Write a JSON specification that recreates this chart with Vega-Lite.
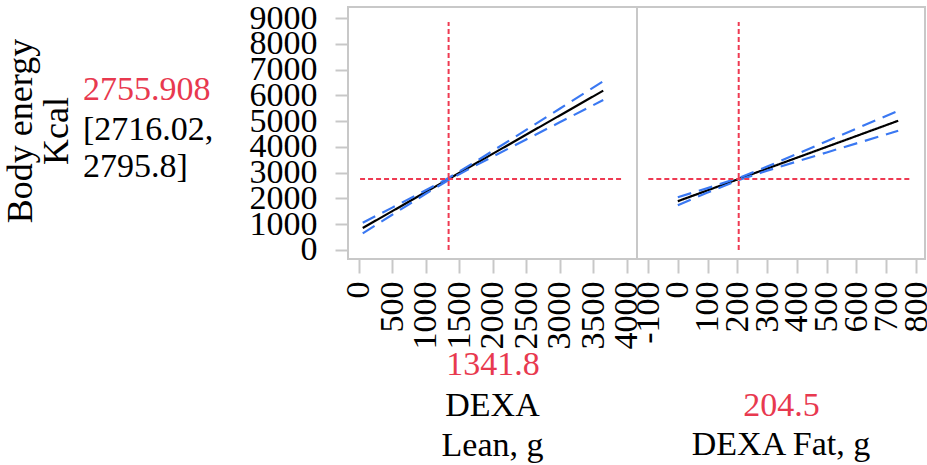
{
  "$schema": "https://vega.github.io/schema/vega-lite/v6.json",
  "background": "white",
  "padding": 0,
  "config": {
    "font": "Liberation Serif",
    "view": {"stroke": "#c8c8c8", "strokeWidth": 2},
    "axis": {"labelFont": "Liberation Serif", "titleFont": "Liberation Serif", "labelColor": "black", "grid": false, "domain": false, "tickCount": 30, "labelExpr": "'' + datum.value"},
    "title": {"font": "Liberation Serif", "fontWeight": "normal", "color": "black"}
  },
  "datasets": {
    "curves": [
      {"panel": "lean", "series": "fit", "x": 60, "y": 852.4},
      {"panel": "lean", "series": "fit", "x": 500, "y": 1505.8},
      {"panel": "lean", "series": "fit", "x": 1000, "y": 2248.3},
      {"panel": "lean", "series": "fit", "x": 1341.8, "y": 2755.9},
      {"panel": "lean", "series": "fit", "x": 1700, "y": 3287.8},
      {"panel": "lean", "series": "fit", "x": 2000, "y": 3733.3},
      {"panel": "lean", "series": "fit", "x": 2500, "y": 4475.9},
      {"panel": "lean", "series": "fit", "x": 3000, "y": 5218.3},
      {"panel": "lean", "series": "fit", "x": 3650, "y": 6183.6},
      {"panel": "lean", "series": "lo", "x": 60, "y": 647},
      {"panel": "lean", "series": "lo", "x": 500, "y": 1368},
      {"panel": "lean", "series": "lo", "x": 1000, "y": 2181},
      {"panel": "lean", "series": "lo", "x": 1341.8, "y": 2716.0},
      {"panel": "lean", "series": "lo", "x": 1700, "y": 3219},
      {"panel": "lean", "series": "lo", "x": 2000, "y": 3622},
      {"panel": "lean", "series": "lo", "x": 2500, "y": 4290},
      {"panel": "lean", "series": "lo", "x": 3000, "y": 4955},
      {"panel": "lean", "series": "lo", "x": 3650, "y": 5819},
      {"panel": "lean", "series": "hi", "x": 60, "y": 1058},
      {"panel": "lean", "series": "hi", "x": 500, "y": 1644},
      {"panel": "lean", "series": "hi", "x": 1000, "y": 2315},
      {"panel": "lean", "series": "hi", "x": 1341.8, "y": 2795.8},
      {"panel": "lean", "series": "hi", "x": 1700, "y": 3357},
      {"panel": "lean", "series": "hi", "x": 2000, "y": 3844},
      {"panel": "lean", "series": "hi", "x": 2500, "y": 4662},
      {"panel": "lean", "series": "hi", "x": 3000, "y": 5482},
      {"panel": "lean", "series": "hi", "x": 3650, "y": 6548},
      {"panel": "fat", "series": "fit", "x": 0, "y": 1892.9},
      {"panel": "fat", "series": "fit", "x": 100, "y": 2314.9},
      {"panel": "fat", "series": "fit", "x": 204.5, "y": 2755.9},
      {"panel": "fat", "series": "fit", "x": 300, "y": 3158.9},
      {"panel": "fat", "series": "fit", "x": 400, "y": 3580.9},
      {"panel": "fat", "series": "fit", "x": 500, "y": 4002.9},
      {"panel": "fat", "series": "fit", "x": 600, "y": 4424.9},
      {"panel": "fat", "series": "fit", "x": 740, "y": 5015.7},
      {"panel": "fat", "series": "lo", "x": 0, "y": 1740},
      {"panel": "fat", "series": "lo", "x": 100, "y": 2230},
      {"panel": "fat", "series": "lo", "x": 204.5, "y": 2716.0},
      {"panel": "fat", "series": "lo", "x": 300, "y": 3079},
      {"panel": "fat", "series": "lo", "x": 400, "y": 3435},
      {"panel": "fat", "series": "lo", "x": 500, "y": 3786},
      {"panel": "fat", "series": "lo", "x": 600, "y": 4137},
      {"panel": "fat", "series": "lo", "x": 740, "y": 4628},
      {"panel": "fat", "series": "hi", "x": 0, "y": 2046},
      {"panel": "fat", "series": "hi", "x": 100, "y": 2400},
      {"panel": "fat", "series": "hi", "x": 204.5, "y": 2795.8},
      {"panel": "fat", "series": "hi", "x": 300, "y": 3238},
      {"panel": "fat", "series": "hi", "x": 400, "y": 3727},
      {"panel": "fat", "series": "hi", "x": 500, "y": 4219},
      {"panel": "fat", "series": "hi", "x": 600, "y": 4712},
      {"panel": "fat", "series": "hi", "x": 740, "y": 5403}
    ],
    "rules": [
      {"panel": "lean", "x": 1341.8, "x2": 1341.8, "y": 0, "y2": 8850},
      {"panel": "lean", "x": 20, "x2": 3930, "y": 2755.9, "y2": 2755.9},
      {"panel": "fat", "x": 204.5, "x2": 204.5, "y": 0, "y2": 8850},
      {"panel": "fat", "x": -99, "x2": 779, "y": 2755.9, "y2": 2755.9}
    ],
    "annot": [
      {"id": "resp", "text": "Body energy\nKcal"},
      {"id": "pred", "text": "2755.908"},
      {"id": "ci1", "text": "[2716.02,"},
      {"id": "ci2", "text": "2795.8]"}
    ]
  },
  "bounds": "flush",
  "spacing": 0,
  "hconcat": [
    {
      "width": 348,
      "height": 252,
      "view": {"stroke": null},
      "data": {"name": "annot"},
      "layer": [
        {
          "transform": [{"filter": "datum.id === 'resp'"}],
          "mark": {"type": "text", "angle": 270, "align": "center", "baseline": "middle", "fontSize": 36, "lineHeight": 36, "lineBreak": "\n", "dx": 2, "dy": -153, "color": "black"},
          "encoding": {"text": {"field": "text"}}
        },
        {
          "transform": [{"filter": "datum.id === 'pred'"}],
          "mark": {"type": "text", "align": "left", "baseline": "alphabetic", "fontSize": 34, "dx": -91, "dy": -33, "color": "#e8394f"},
          "encoding": {"text": {"field": "text"}}
        },
        {
          "transform": [{"filter": "datum.id === 'ci1'"}],
          "mark": {"type": "text", "align": "left", "baseline": "alphabetic", "fontSize": 34, "dx": -91, "dy": 7, "color": "black"},
          "encoding": {"text": {"field": "text"}}
        },
        {
          "transform": [{"filter": "datum.id === 'ci2'"}],
          "mark": {"type": "text", "align": "left", "baseline": "alphabetic", "fontSize": 34, "dx": -91, "dy": 44, "color": "black"},
          "encoding": {"text": {"field": "text"}}
        }
      ]
    },
    {
      "width": 289,
      "height": 252,
      "title": {"text": ["DEXA", "Lean, g"], "orient": "bottom", "anchor": "middle", "fontSize": 34, "lineHeight": 40, "offset": 8},
      "layer": [
        {
          "data": {"name": "curves"},
          "transform": [{"filter": "datum.panel === 'lean'"}],
          "mark": {"type": "line", "strokeWidth": 2.2},
          "encoding": {
            "x": {"field": "x", "type": "quantitative", "scale": {"domain": [-160, 4154], "nice": false, "zero": false},
              "axis": {"values": [0, 500, 1000, 1500, 2000, 2500, 3000, 3500, 4000], "tickCount": 30, "labelAngle": -90, "labelFontSize": 34, "labelPadding": 8, "tickSize": 14, "tickWidth": 2, "tickColor": "#c8c8c8", "labelOverlap": false, "labelFlush": false, "labelBound": false, "title": "1341.8", "titleColor": "#e8394f", "titleFontSize": 34, "titleFontWeight": "normal", "titlePadding": -2}},
            "y": {"field": "y", "type": "quantitative", "scale": {"domain": [-350, 9430], "nice": false, "zero": false},
              "axis": {"values": [0, 1000, 2000, 3000, 4000, 5000, 6000, 7000, 8000, 9000], "tickCount": 30, "title": null, "labelFontSize": 34, "labelPadding": 18, "tickSize": 13, "tickWidth": 2, "tickColor": "#c8c8c8", "labelOverlap": false, "labelFlush": false, "labelBound": false}},
            "color": {"field": "series", "type": "nominal", "scale": {"domain": ["fit", "lo", "hi"], "range": ["#000000", "#3a78f2", "#3a78f2"]}, "legend": null},
            "strokeDash": {"field": "series", "type": "nominal", "scale": {"domain": ["fit", "lo", "hi"], "range": [[1, 0], [14, 8], [14, 8]]}, "legend": null}
          }
        },
        {
          "data": {"name": "rules"},
          "transform": [{"filter": "datum.panel === 'lean'"}],
          "mark": {"type": "rule", "color": "#ee3a52", "strokeDash": [5, 3], "strokeWidth": 2},
          "encoding": {
            "x": {"field": "x", "type": "quantitative"},
            "x2": {"field": "x2"},
            "y": {"field": "y", "type": "quantitative"},
            "y2": {"field": "y2"}
          }
        }
      ]
    },
    {
      "width": 288,
      "height": 252,
      "title": {"text": "DEXA Fat, g", "orient": "bottom", "anchor": "middle", "fontSize": 34, "offset": 6},
      "layer": [
        {
          "data": {"name": "curves"},
          "transform": [{"filter": "datum.panel === 'fat'"}],
          "mark": {"type": "line", "strokeWidth": 2.2},
          "encoding": {
            "x": {"field": "x", "type": "quantitative", "scale": {"domain": [-137, 830], "nice": false, "zero": false},
              "axis": {"values": [-100, 0, 100, 200, 300, 400, 500, 600, 700, 800], "tickCount": 30, "labelAngle": -90, "labelFontSize": 34, "labelPadding": 8, "tickSize": 14, "tickWidth": 2, "tickColor": "#c8c8c8", "labelOverlap": false, "labelFlush": false, "labelBound": false, "title": "204.5", "titleColor": "#e8394f", "titleFontSize": 34, "titleFontWeight": "normal", "titlePadding": 45}},
            "y": {"field": "y", "type": "quantitative", "scale": {"domain": [-350, 9430], "nice": false, "zero": false}, "axis": null},
            "color": {"field": "series", "type": "nominal", "scale": {"domain": ["fit", "lo", "hi"], "range": ["#000000", "#3a78f2", "#3a78f2"]}, "legend": null},
            "strokeDash": {"field": "series", "type": "nominal", "scale": {"domain": ["fit", "lo", "hi"], "range": [[1, 0], [14, 8], [14, 8]]}, "legend": null}
          }
        },
        {
          "data": {"name": "rules"},
          "transform": [{"filter": "datum.panel === 'fat'"}],
          "mark": {"type": "rule", "color": "#ee3a52", "strokeDash": [5, 3], "strokeWidth": 2},
          "encoding": {
            "x": {"field": "x", "type": "quantitative"},
            "x2": {"field": "x2"},
            "y": {"field": "y", "type": "quantitative"},
            "y2": {"field": "y2"}
          }
        }
      ]
    }
  ]
}
